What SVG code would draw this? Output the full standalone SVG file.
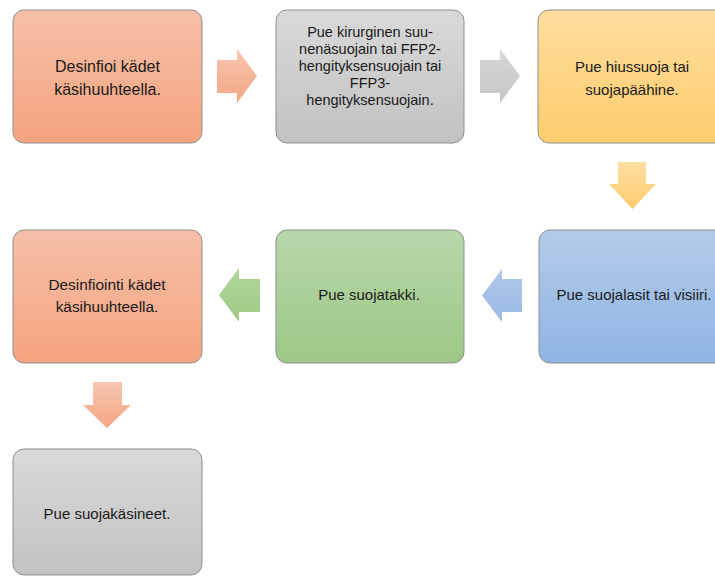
<svg xmlns="http://www.w3.org/2000/svg" width="715" height="576" viewBox="0 0 715 576">
<defs>
<linearGradient id="gSalmon" x1="0" y1="0" x2="0" y2="1"><stop offset="0" stop-color="#f6bfa8"/><stop offset="1" stop-color="#f4a47f"/></linearGradient>
<linearGradient id="gGray" x1="0" y1="0" x2="0" y2="1"><stop offset="0" stop-color="#d9d9d9"/><stop offset="1" stop-color="#c2c2c2"/></linearGradient>
<linearGradient id="gYellow" x1="0" y1="0" x2="0" y2="1"><stop offset="0" stop-color="#fedd9e"/><stop offset="1" stop-color="#fecd6d"/></linearGradient>
<linearGradient id="gGreen" x1="0" y1="0" x2="0" y2="1"><stop offset="0" stop-color="#b7d7a9"/><stop offset="1" stop-color="#9dc787"/></linearGradient>
<linearGradient id="gBlue" x1="0" y1="0" x2="0" y2="1"><stop offset="0" stop-color="#b3cbe9"/><stop offset="1" stop-color="#8fb4e2"/></linearGradient>
<linearGradient id="aSalmon" x1="0" y1="0" x2="0" y2="1"><stop offset="0" stop-color="#f7c6b0"/><stop offset="1" stop-color="#f4a684"/></linearGradient>
<linearGradient id="aGray" x1="0" y1="0" x2="0" y2="1"><stop offset="0" stop-color="#d6d6d6"/><stop offset="1" stop-color="#c6c6c6"/></linearGradient>
<linearGradient id="aYellow" x1="0" y1="0" x2="0" y2="1"><stop offset="0" stop-color="#fedfa4"/><stop offset="1" stop-color="#fdcb6b"/></linearGradient>
<linearGradient id="aGreen" x1="0" y1="0" x2="0" y2="1"><stop offset="0" stop-color="#b1d59c"/><stop offset="1" stop-color="#a0cb85"/></linearGradient>
<linearGradient id="aBlue" x1="0" y1="0" x2="0" y2="1"><stop offset="0" stop-color="#b0c9ea"/><stop offset="1" stop-color="#9abbe4"/></linearGradient>
</defs>
<style>
.box{stroke:#8f8f8f;stroke-width:1}
.t{font-family:"Liberation Sans",Arial,sans-serif;font-size:15px;fill:#1a1a1a;text-anchor:middle}
.t2{font-size:14.5px}
.t16{font-size:16px}
.t15{font-size:15.4px}
</style>
<rect width="715" height="576" fill="#ffffff"/>
<g id="connectors">
<polygon points="217,60 237,60 237,49 257,76 237,103 237,93 217,93" fill="url(#aSalmon)"/>
<polygon points="480,60 500,60 500,49 520,76 500,103 500,93 480,93" fill="url(#aGray)"/>
<polygon points="618,162 646,162 646,184 656,184 632.5,209 609,184 618,184" fill="url(#aYellow)"/>
<polygon points="522,279 502,279 502,269 482,295.5 502,322 502,312 522,312" fill="url(#aBlue)"/>
<polygon points="260,279 239,279 239,268 219,295 239,322 239,312 260,312" fill="url(#aGreen)"/>
<polygon points="93,382 122,382 122,405 131,405 107,428 83,405 93,405" fill="url(#aSalmon)"/>
</g>
<g id="node1">
<rect class="box" x="13" y="10" width="189" height="133" rx="11" fill="url(#gSalmon)"/>
<text class="t t16" x="107.5" y="72">Desinfioi kädet</text>
<text class="t t16" x="107.5" y="95">käsihuuhteella.</text>
</g>
<g id="node2">
<rect class="box" x="276" y="10" width="188" height="133" rx="11" fill="url(#gGray)"/>
<text class="t t2" x="370" y="37">Pue kirurginen suu-</text>
<text class="t t2" x="370" y="54">nenäsuojain tai FFP2-</text>
<text class="t t2" x="370" y="71">hengityksensuojain tai</text>
<text class="t t2" x="370" y="88">FFP3-</text>
<text class="t t2" x="370" y="105">hengityksensuojain.</text>
</g>
<g id="node3">
<rect class="box" x="538" y="10" width="189" height="133" rx="11" fill="url(#gYellow)"/>
<text class="t" x="632" y="72">Pue hiussuoja tai</text>
<text class="t" x="632" y="95">suojapäähine.</text>
</g>
<g id="node4">
<rect class="box" x="539" y="230" width="189" height="133" rx="11" fill="url(#gBlue)"/>
<text class="t" x="634" y="300">Pue suojalasit tai visiiri.</text>
</g>
<g id="node5">
<rect class="box" x="276" y="230" width="188" height="133" rx="11" fill="url(#gGreen)"/>
<text class="t" x="369" y="300">Pue suojatakki.</text>
</g>
<g id="node6">
<rect class="box" x="13" y="230" width="189" height="133" rx="11" fill="url(#gSalmon)"/>
<text class="t t15" x="107" y="290">Desinfiointi kädet</text>
<text class="t t15" x="107" y="312">käsihuuhteella.</text>
</g>
<g id="node7">
<rect class="box" x="13" y="449" width="189" height="126" rx="11" fill="url(#gGray)"/>
<text class="t" x="107" y="519">Pue suojakäsineet.</text>
</g>
</svg>
